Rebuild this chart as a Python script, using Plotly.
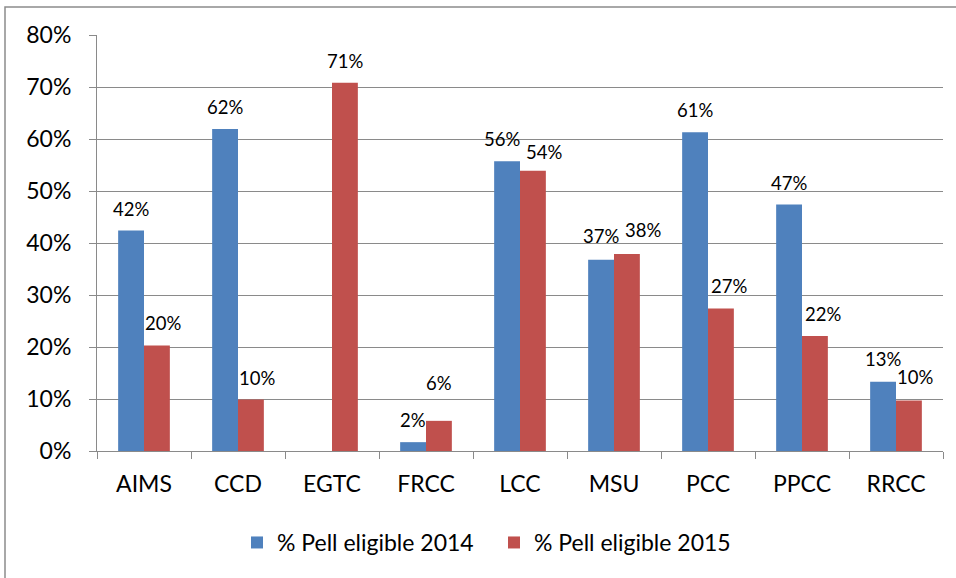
import plotly.graph_objects as go

categories = ["AIMS", "CCD", "EGTC", "FRCC", "LCC", "MSU", "PCC", "PPCC", "RRCC"]
pell_2014 = [0.424, 0.619, None, 0.017, 0.557, 0.368, 0.613, 0.474, 0.133]
pell_2015 = [0.203, 0.099, 0.708, 0.058, 0.539, 0.379, 0.274, 0.221, 0.097]
series_names = ["% Pell eligible 2014", "% Pell eligible 2015"]
series_colors = ["#4f81bd", "#c0504d"]
y_ticks = [0, 0.1, 0.2, 0.3, 0.4, 0.5, 0.6, 0.7, 0.8]
y_tick_labels = ["0%", "10%", "20%", "30%", "40%", "50%", "60%", "70%", "80%"]

# label nudges in px (style only), (dx, dy) per category for each series
label_dx = [
    [0, 0, 0, 0, -5, 0, 0, 0, 0],
    [6, 6, 0, 0, 11, 16, 8, 8, 6],
]
label_dy = [
    [22, 22, 22, 22, 22, 24, 22, 22, 23],
    [22, 22, 22, 38, 19, 24, 23, 22, 24],
]

FONT = "Lato, 'Open Sans', sans-serif"
GRID = "#8a8a8a"

L, R, T, B = 97, 13, 35, 127
W, H = 956, 578
pw, ph = W - L - R, H - T - B
BAR_PX = 26  # approx bar width in px, used only for label offset

fig = go.Figure()
annotations = []
for i, (vals, name, col) in enumerate(zip([pell_2014, pell_2015], series_names, series_colors)):
    fig.add_trace(go.Bar(
        x=categories, y=vals, name=name,
        marker=dict(color=col, line=dict(width=0)),
    ))
    shift = (-1 if i == 0 else 1) * BAR_PX / 2
    for j, (c, v) in enumerate(zip(categories, vals)):
        if v is None:
            continue
        annotations.append(dict(
            x=c, y=v, xref="x", yref="y", text=f"{round(v * 100):.0f}%",
            showarrow=False, xshift=shift + label_dx[i][j], yshift=label_dy[i][j],
            yanchor="middle",
            font=dict(size=18.5, family=FONT, color="#000000"),
        ))

fig.update_layout(
    width=W, height=H,
    margin=dict(l=L, r=R, t=T, b=B, pad=0),
    paper_bgcolor="white", plot_bgcolor="white",
    barmode="group", bargap=0.45, bargroupgap=0,
    font=dict(family=FONT, size=23, color="#000000"),
    showlegend=True,
    legend=dict(orientation="h", x=0.5 - 26 / pw, xanchor="center", y=-0.22, yanchor="middle",
                font=dict(size=23, family=FONT), itemwidth=30,
                entrywidth=212, entrywidthmode="pixels", traceorder="normal"),
    xaxis=dict(
        showline=True, linecolor=GRID, linewidth=1,
        ticks="outside", ticklen=7, tickcolor=GRID, tickson="boundaries",
        tickfont=dict(size=23, family=FONT), ticklabelstandoff=12,
        showgrid=False,
    ),
    yaxis=dict(
        range=[0, 0.8], tickvals=y_ticks, ticktext=y_tick_labels,
        showline=True, linecolor=GRID, linewidth=1,
        ticks="outside", ticklen=7, tickcolor=GRID,
        showgrid=True, gridcolor=GRID, gridwidth=1,
        tickfont=dict(size=23, family=FONT), ticklabelstandoff=13,
        zeroline=False,
    ),
    annotations=annotations,
    shapes=[dict(
        type="rect", xref="paper", yref="paper",
        x0=(5 - L) / pw, x1=1 + (R + 20) / pw,
        y0=-(B + 20) / ph, y1=1 + (T - 7) / ph,
        line=dict(color="#8c8c8c", width=1.5), fillcolor="rgba(0,0,0,0)",
        layer="below",
    )],
)

fig.write_html("out.html", config={"displayModeBar": False},
               post_script="document.body.style.margin='0';")
